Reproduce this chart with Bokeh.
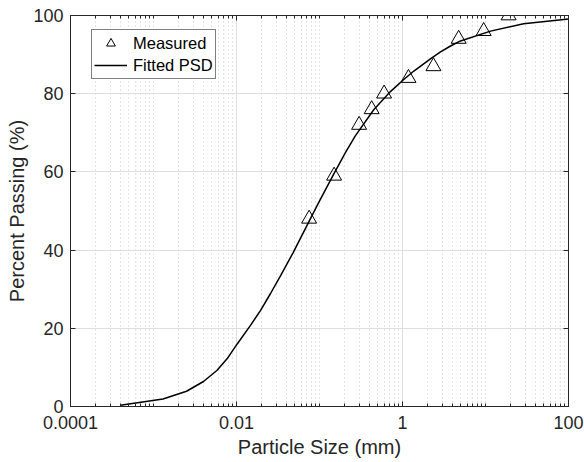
from bokeh.plotting import figure
from bokeh.models import (Range1d, FixedTicker, LogAxis, LinearAxis, Legend, LegendItem)
from bokeh.embed import file_html
from bokeh.resources import INLINE

# Measured sieve data
meas_size = [0.075, 0.15, 0.30, 0.425, 0.60, 1.18, 2.36, 4.75, 9.5, 19.0]
meas_pass = [48, 59, 72, 76, 80, 84, 87, 94, 96, 100]

# Fitted PSD curve
fit_size = [0.0004, 0.0013, 0.0025, 0.004, 0.0058, 0.0077, 0.0102, 0.0148, 0.0195,
            0.0257, 0.034, 0.048, 0.071, 0.098, 0.15, 0.206, 0.27, 0.45, 0.72,
            1.02, 1.37, 2.17, 2.87, 3.79, 5.0, 11.5, 28.8, 100.0]
fit_pass = [0.3, 1.9, 3.9, 6.4, 9.2, 12.2, 16.0, 20.8, 24.6,
            28.9, 33.5, 39.3, 46.4, 52.2, 59.6, 65.0, 69.2, 75.9, 80.6,
            83.5, 85.8, 88.9, 90.7, 92.2, 93.5, 96.0, 97.9, 99.1]

x_ticks = [0.0001, 0.01, 1, 100]
x_tick_labels = ["0.0001", "0.01", "1", "100"]
x_decades = [-4, -3, -2, -1, 0, 1]
y_ticks = [0, 20, 40, 60, 80, 100]

x_minor = []
for d in x_decades:
    for m in range(1, 10):
        if m == 1 and d % 2 == 0:
            continue
        x_minor.append(m * 10.0 ** d)

AX = "#262626"
FONT = "Liberation Sans"

p = figure(frame_width=498, frame_height=391, x_axis_type="log",
           x_range=Range1d(1e-4, 100), y_range=Range1d(0, 100),
           output_backend="svg", toolbar_location=None,
           min_border_left=70, min_border_right=16, min_border_top=15, min_border_bottom=56)
p.background_fill_color = "white"
p.border_fill_color = "white"
p.outline_line_color = AX
p.outline_line_width = 1

xt = FixedTicker(ticks=x_ticks, minor_ticks=x_minor)
yt = FixedTicker(ticks=y_ticks)

def style(ax):
    ax.axis_line_color = AX
    ax.major_tick_line_color = AX
    ax.minor_tick_line_color = AX
    ax.major_tick_in = 5
    ax.major_tick_out = 0
    ax.minor_tick_in = 3
    ax.minor_tick_out = 0
    ax.major_label_text_color = AX
    ax.major_label_text_font = FONT
    ax.major_label_text_font_size = "18px"
    ax.axis_label_text_font = FONT
    ax.axis_label_text_font_size = "20px"
    ax.axis_label_text_font_style = "normal"
    ax.axis_label_text_color = AX

xa = p.xaxis[0]
xa.ticker = xt
xa.major_label_overrides = {k: v for k, v in zip(x_ticks, x_tick_labels)}
xa.axis_label = "Particle Size (mm)"
style(xa)
xa.major_label_standoff = 9
xa.axis_label_standoff = 4

ya = p.yaxis[0]
ya.ticker = yt
ya.axis_label = "Percent Passing (%)"
style(ya)
ya.major_label_standoff = 7
ya.axis_label_standoff = 2

top = LogAxis(ticker=xt)
style(top)
top.major_label_text_font_size = "1px"
top.major_label_text_alpha = 0
top.major_label_standoff = 0
right = LinearAxis(ticker=yt)
style(right)
right.major_label_text_font_size = "1px"
right.major_label_text_alpha = 0
right.major_label_standoff = 0
p.add_layout(top, "above")
p.add_layout(right, "right")

p.xgrid.grid_line_color = "#dedede"
p.xgrid.grid_line_width = 1
p.xgrid.minor_grid_line_color = "#c8c8c8"
p.xgrid.minor_grid_line_dash = "1 3"
p.ygrid.grid_line_color = "#dedede"
p.ygrid.grid_line_width = 1

r_fit = p.line(fit_size, fit_pass, line_color="black", line_width=1.5)
r_meas = p.scatter(meas_size, meas_pass, marker="triangle", size=15,
                   line_color="black", line_width=1, fill_alpha=0)

legend = Legend(items=[LegendItem(label="Measured", renderers=[r_meas]),
                       LegendItem(label="Fitted PSD", renderers=[r_fit])],
                location=(21, 327))
legend.label_text_font = FONT
legend.label_text_font_size = "16.5px"
legend.label_text_color = "black"
legend.border_line_color = "black"
legend.border_line_width = 1
legend.background_fill_alpha = 1
legend.padding = 2
legend.spacing = -2
legend.glyph_height = 22
legend.glyph_width = 33
legend.label_height = 20
legend.label_standoff = 6
legend.margin = 0
p.add_layout(legend, "center")

open("out.html", "w").write(file_html(p, INLINE))
